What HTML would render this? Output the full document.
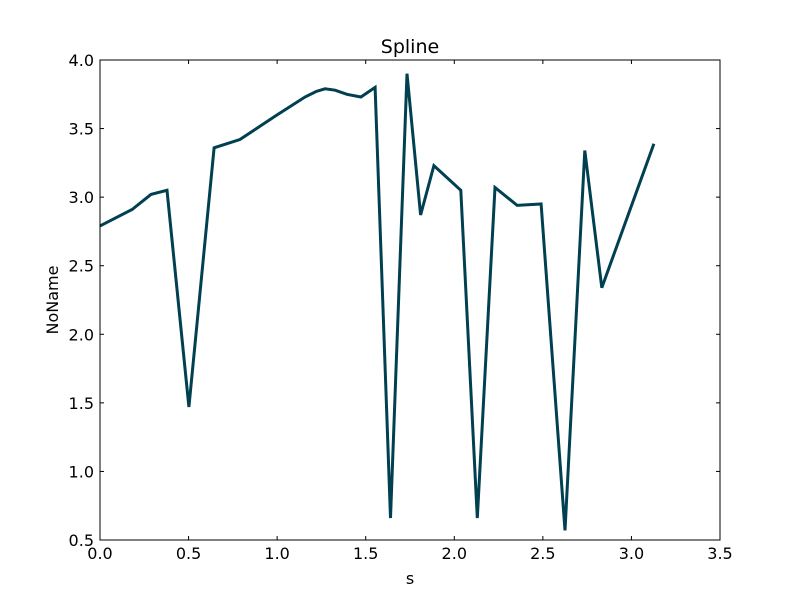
<!DOCTYPE html>
<html><head><meta charset="utf-8"><style>
body{margin:0;background:#fff;}
svg{display:block;font-family:"DejaVu Sans","Liberation Sans",sans-serif;}
</style></head><body>
<svg id="chart" width="800" height="600">
<rect width="800" height="600" fill="#fff"/>
<g id="axes"></g>
</svg>
<script>
const xTicks=[0.0,0.5,1.0,1.5,2.0,2.5,3.0,3.5];
const yTicks=[0.5,1.0,1.5,2.0,2.5,3.0,3.5,4.0];
const xValues=[0,0.181,0.288,0.378,0.502,0.644,0.79,1.0,1.157,1.22,1.27,1.327,1.394,1.473,1.553,1.64,1.733,1.81,1.885,2.037,2.13,2.23,2.355,2.49,2.625,2.737,2.833,3.127];
const yValues=[2.79,2.91,3.02,3.05,1.47,3.36,3.42,3.6,3.73,3.77,3.79,3.78,3.75,3.73,3.80,0.66,3.90,2.87,3.23,3.05,0.66,3.07,2.94,2.95,0.57,3.34,2.34,3.39];
const L=100,R=720,T=60,B=540;
const sx=v=>L+(v-0)/(3.5-0)*(R-L);
const sy=v=>B-(v-0.5)/(4.0-0.5)*(B-T);
const NS="http://www.w3.org/2000/svg";
const g=document.getElementById('axes');
function mk(t,a){const e=document.createElementNS(NS,t);for(const k in a)e.setAttribute(k,a[k]);g.appendChild(e);return e;}
const d=xValues.map((x,i)=>(i?'L':'M')+sx(x).toFixed(1)+','+sy(yValues[i]).toFixed(1)).join(' ');
const line=mk('path',{d:d,fill:'none',stroke:'#004050','stroke-width':3,'stroke-linejoin':'miter'});


const frame=mk('rect',{x:L,y:T,width:R-L,height:B-T,fill:'none',stroke:'#000','stroke-width':1});


xTicks.forEach(v=>{const x=sx(v);
mk('line',{x1:x,x2:x,y1:B,y2:B-4,stroke:'#000'});
mk('line',{x1:x,x2:x,y1:T,y2:T+4,stroke:'#000'});
const t=mk('text',{x:x,y:B+19,'font-size':16,'text-anchor':'middle'});t.textContent=v.toFixed(1);


});
yTicks.forEach(v=>{const y=sy(v);
mk('line',{x1:L,x2:L+4,y1:y,y2:y,stroke:'#000'});
mk('line',{x1:R,x2:R-4,y1:y,y2:y,stroke:'#000'});
const t=mk('text',{x:L-6,y:y+6,'font-size':16,'text-anchor':'end'});t.textContent=v.toFixed(1);


});
const title=mk('text',{x:410,y:53,'font-size':19,'text-anchor':'middle'});title.textContent='Spline';


const xl=mk('text',{x:410,y:584,'font-size':16,'text-anchor':'middle'});xl.textContent='s';


const yl=mk('text',{x:58,y:300,'font-size':16,'text-anchor':'middle',transform:'rotate(-90 58 300)'});yl.textContent='NoName';


</script>
</body></html>
